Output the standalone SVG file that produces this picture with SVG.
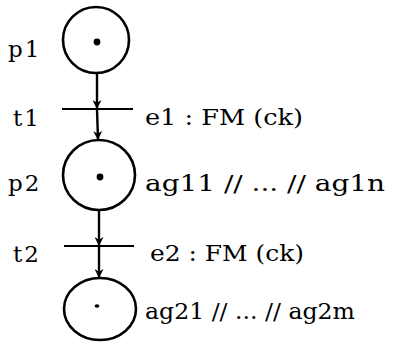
<svg xmlns="http://www.w3.org/2000/svg" width="401" height="346" viewBox="0 0 401 346">
<style>
.pl{fill:none;stroke:#000;stroke-width:2.6}
.tok{fill:#000}
.bar{stroke:#000;stroke-width:2.2}
.arc{stroke:#000;stroke-width:2.4;fill:none}
text{font-family:"DejaVu Serif","Liberation Serif",serif;font-size:23px;fill:#000}
.lb{letter-spacing:2px}
</style>
<defs>
<marker id="ah" viewBox="0 0 10 10" refX="10" refY="5" markerWidth="9" markerHeight="9" markerUnits="userSpaceOnUse" orient="auto">
<path d="M0,0 L10,5 L0,10 L3,5 Z" fill="#000"/>
</marker>
</defs>
<rect width="401" height="346" fill="#fff"/>
<g id="connectors">
<line class="arc" x1="97" y1="73" x2="97" y2="109" marker-end="url(#ah)"/>
<line class="arc" x1="97" y1="109" x2="98" y2="140" marker-end="url(#ah)"/>
<line class="arc" x1="99" y1="210" x2="99" y2="246" marker-end="url(#ah)"/>
<line class="arc" x1="99" y1="246" x2="99" y2="278" marker-end="url(#ah)"/>
</g>
<g id="p1">
<circle class="pl" cx="96" cy="40" r="33"/>
<circle class="tok" cx="97" cy="42" r="3.4"/>
<text class="lb" x="8" y="57">p1</text>
</g>
<g id="t1">
<line class="bar" x1="62" y1="109" x2="133" y2="109"/>
<text class="lb" x="13" y="126">t1</text>
<text x="145" y="125" textLength="158" lengthAdjust="spacingAndGlyphs">e1 : FM (ck)</text>
</g>
<g id="p2">
<ellipse class="pl" cx="99" cy="175" rx="36" ry="35"/>
<circle class="tok" cx="100" cy="177" r="3.4"/>
<text class="lb" x="8" y="191">p2</text>
<text x="145" y="191" textLength="240" lengthAdjust="spacingAndGlyphs">ag11 // ... // ag1n</text>
</g>
<g id="t2">
<line class="bar" x1="64" y1="246" x2="134" y2="246"/>
<text class="lb" x="13" y="262">t2</text>
<text x="150" y="261" textLength="154" lengthAdjust="spacingAndGlyphs">e2 : FM (ck)</text>
</g>
<g id="p3">
<ellipse class="pl" cx="100" cy="309" rx="36" ry="31"/>
<ellipse class="tok" cx="97" cy="306" rx="2.4" ry="1.8"/>
<text x="145" y="319" textLength="210" lengthAdjust="spacingAndGlyphs">ag21 // ... // ag2m</text>
</g>
</svg>
